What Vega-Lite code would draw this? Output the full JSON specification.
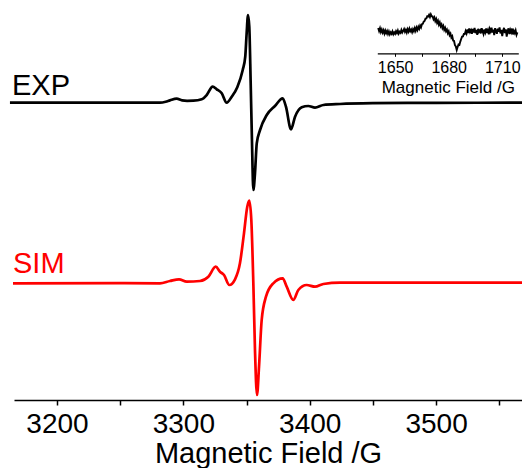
{
  "$schema": "https://vega.github.io/schema/vega-lite/v6.json",
  "width": 508,
  "height": 400,
  "autosize": {"type": "none"},
  "padding": {"left": 14, "top": 0, "right": 0, "bottom": 68},
  "config": {
    "view": {"stroke": null},
    "font": "Liberation Sans",
    "axis": {"domainColor": "#000000", "tickColor": "#000000", "labelColor": "#000000", "titleColor": "#000000", "titleFontWeight": "normal", "grid": false, "labelFont": "Liberation Sans", "titleFont": "Liberation Sans"}
  },
  "datasets": {
    "main": [
      {"trace":"EXP","field":3162.8,"signal":297.3},{"trace":"EXP","field":3200,"signal":297.3},{"trace":"EXP","field":3250,"signal":297.4},{"trace":"EXP","field":3281.5,"signal":297.3},{"trace":"EXP","field":3286,"signal":298.2},{"trace":"EXP","field":3289.4,"signal":299.6},{"trace":"EXP","field":3294.7,"signal":301.3},{"trace":"EXP","field":3299,"signal":299.6},{"trace":"EXP","field":3303,"signal":299.2},{"trace":"EXP","field":3308,"signal":299.3},{"trace":"EXP","field":3314.5,"signal":300.7},{"trace":"EXP","field":3318.5,"signal":305},{"trace":"EXP","field":3323.2,"signal":313.3},{"trace":"EXP","field":3326.4,"signal":310.7},{"trace":"EXP","field":3330.4,"signal":306.7},{"trace":"EXP","field":3334.3,"signal":297.3},{"trace":"EXP","field":3338.3,"signal":303.3},{"trace":"EXP","field":3342.7,"signal":312.7},{"trace":"EXP","field":3347,"signal":330},{"trace":"EXP","field":3349,"signal":343.3},{"trace":"EXP","field":3350.1,"signal":366.7},{"trace":"EXP","field":3351.2,"signal":385},{"trace":"EXP","field":3352.2,"signal":373.3},{"trace":"EXP","field":3353.3,"signal":316.7},{"trace":"EXP","field":3354.3,"signal":260},{"trace":"EXP","field":3355.4,"signal":210},{"trace":"EXP","field":3356.7,"signal":226.7},{"trace":"EXP","field":3358.1,"signal":256.7},{"trace":"EXP","field":3360.7,"signal":270},{"trace":"EXP","field":3366,"signal":285},{"trace":"EXP","field":3372.5,"signal":294},{"trace":"EXP","field":3378.6,"signal":301.7},{"trace":"EXP","field":3381.2,"signal":293.3},{"trace":"EXP","field":3385.2,"signal":270.7},{"trace":"EXP","field":3388.4,"signal":283.3},{"trace":"EXP","field":3393.7,"signal":292.7},{"trace":"EXP","field":3398.9,"signal":294},{"trace":"EXP","field":3404.2,"signal":292.3},{"trace":"EXP","field":3410.8,"signal":295},{"trace":"EXP","field":3424,"signal":296},{"trace":"EXP","field":3450,"signal":296.8},{"trace":"EXP","field":3500,"signal":297.2},{"trace":"EXP","field":3568,"signal":297.3},
      {"trace":"SIM","field":3165.2,"signal":116.7},{"trace":"SIM","field":3250,"signal":116.8},{"trace":"SIM","field":3281.5,"signal":116.7},{"trace":"SIM","field":3289.4,"signal":119},{"trace":"SIM","field":3296.6,"signal":120.7},{"trace":"SIM","field":3302.7,"signal":118.3},{"trace":"SIM","field":3313.2,"signal":119},{"trace":"SIM","field":3319.8,"signal":123.3},{"trace":"SIM","field":3325.6,"signal":133.3},{"trace":"SIM","field":3329,"signal":128.3},{"trace":"SIM","field":3332.2,"signal":125},{"trace":"SIM","field":3336.4,"signal":115},{"trace":"SIM","field":3340.9,"signal":120.7},{"trace":"SIM","field":3344.8,"signal":136.7},{"trace":"SIM","field":3348,"signal":166.7},{"trace":"SIM","field":3350.6,"signal":193.3},{"trace":"SIM","field":3352.2,"signal":199.3},{"trace":"SIM","field":3353.8,"signal":180},{"trace":"SIM","field":3355.4,"signal":116.7},{"trace":"SIM","field":3356.7,"signal":50},{"trace":"SIM","field":3358.3,"signal":5},{"trace":"SIM","field":3359.9,"signal":33.3},{"trace":"SIM","field":3362,"signal":80},{"trace":"SIM","field":3365.4,"signal":103.3},{"trace":"SIM","field":3371.2,"signal":116.7},{"trace":"SIM","field":3378.6,"signal":121.7},{"trace":"SIM","field":3381.8,"signal":113.3},{"trace":"SIM","field":3387,"signal":100},{"trace":"SIM","field":3391,"signal":110},{"trace":"SIM","field":3397.6,"signal":115},{"trace":"SIM","field":3404.2,"signal":113.3},{"trace":"SIM","field":3410.8,"signal":116},{"trace":"SIM","field":3424,"signal":117.3},{"trace":"SIM","field":3500,"signal":117.3},{"trace":"SIM","field":3568,"signal":117.3}
    ],
    "labels": [
      {"trace":"EXP","field":3164.4,"signal":305},
      {"trace":"SIM","field":3165.2,"signal":126.7}
    ],
    "inset": [
      {"field":1640.5,"signal":4.0},{"field":1641,"signal":1.0},{"field":1641.5,"signal":3.8},{"field":1642,"signal":0.0},{"field":1642.5,"signal":2.5},{"field":1643,"signal":-0.5},{"field":1643.5,"signal":1.8},{"field":1644,"signal":-1.5},{"field":1644.5,"signal":1.4},{"field":1645,"signal":-1.2},{"field":1645.5,"signal":0.9},{"field":1646,"signal":-2.0},{"field":1646.5,"signal":0.5},{"field":1647,"signal":-2.3},{"field":1647.5,"signal":-0.3},{"field":1648,"signal":-1.8},{"field":1648.5,"signal":0.6},{"field":1649,"signal":-2.2},{"field":1649.5,"signal":-0.4},{"field":1650,"signal":-1.8},{"field":1650.5,"signal":0.8},{"field":1651,"signal":-1.0},{"field":1651.5,"signal":1.5},{"field":1652,"signal":-1.6},{"field":1652.5,"signal":0.3},{"field":1653,"signal":-0.8},{"field":1653.5,"signal":2.0},{"field":1654,"signal":-0.4},{"field":1654.5,"signal":1.2},{"field":1655,"signal":3.0},{"field":1655.5,"signal":0.2},{"field":1656,"signal":2.2},{"field":1656.5,"signal":-0.5},{"field":1657,"signal":2.7},{"field":1657.5,"signal":0.4},{"field":1658,"signal":3.4},{"field":1658.5,"signal":0.8},{"field":1659,"signal":2.4},{"field":1659.5,"signal":-0.2},{"field":1660,"signal":2.8},{"field":1660.5,"signal":0.8},{"field":1661,"signal":3.8},{"field":1661.5,"signal":1.2},{"field":1662,"signal":4.4},{"field":1662.5,"signal":2.0},{"field":1663,"signal":5.2},{"field":1663.5,"signal":3.2},{"field":1664,"signal":6.4},{"field":1664.5,"signal":4.6},{"field":1665,"signal":7.8},{"field":1665.5,"signal":8.2},{"field":1666,"signal":10.4},{"field":1666.5,"signal":11.0},{"field":1667,"signal":13.4},{"field":1667.5,"signal":13.6},{"field":1668,"signal":15.8},{"field":1668.5,"signal":15.4},{"field":1669,"signal":17.2},{"field":1669.5,"signal":15.0},{"field":1670,"signal":17.6},{"field":1670.5,"signal":15.6},{"field":1671,"signal":15.6},{"field":1671.5,"signal":12.8},{"field":1672,"signal":14.6},{"field":1672.5,"signal":11.0},{"field":1673,"signal":13.0},{"field":1673.5,"signal":9.2},{"field":1674,"signal":11.2},{"field":1674.5,"signal":7.4},{"field":1675,"signal":9.6},{"field":1675.5,"signal":5.8},{"field":1676,"signal":7.6},{"field":1676.5,"signal":4.0},{"field":1677,"signal":6.0},{"field":1677.5,"signal":2.2},{"field":1678,"signal":4.2},{"field":1678.5,"signal":0.8},{"field":1679,"signal":2.4},{"field":1679.5,"signal":-1.2},{"field":1680,"signal":0.6},{"field":1680.5,"signal":-3.2},{"field":1681,"signal":-1.6},{"field":1681.5,"signal":-5.6},{"field":1682,"signal":-4.2},{"field":1682.5,"signal":-8.6},{"field":1683,"signal":-9.0},{"field":1683.5,"signal":-13.2},{"field":1684,"signal":-14.4},{"field":1684.5,"signal":-18.0},{"field":1685,"signal":-15.0},{"field":1685.5,"signal":-12.6},{"field":1686,"signal":-13.0},{"field":1686.5,"signal":-9.6},{"field":1687,"signal":-7.0},{"field":1687.5,"signal":-4.6},{"field":1688,"signal":-4.4},{"field":1688.5,"signal":-2.0},{"field":1689,"signal":-2.0},{"field":1689.5,"signal":1.0},{"field":1690,"signal":-1.4},{"field":1690.5,"signal":2.6},{"field":1691,"signal":-1.0},{"field":1691.5,"signal":3.6},{"field":1692,"signal":0.0},{"field":1692.5,"signal":1.8},{"field":1693,"signal":-1.8},{"field":1693.5,"signal":3.0},{"field":1694,"signal":-0.4},{"field":1694.5,"signal":4.0},{"field":1695,"signal":-1.2},{"field":1695.5,"signal":2.2},{"field":1696,"signal":-2.8},{"field":1696.5,"signal":3.2},{"field":1697,"signal":0.2},{"field":1697.5,"signal":1.5},{"field":1698,"signal":-1.4},{"field":1698.5,"signal":3.8},{"field":1699,"signal":0.6},{"field":1699.5,"signal":-2.0},{"field":1700,"signal":2.6},{"field":1700.5,"signal":-0.3},{"field":1701,"signal":3.5},{"field":1701.5,"signal":-1.0},{"field":1702,"signal":1.8},{"field":1702.5,"signal":-2.4},{"field":1703,"signal":3.0},{"field":1703.5,"signal":0.6},{"field":1704,"signal":4.4},{"field":1704.5,"signal":-0.6},{"field":1705,"signal":2.4},{"field":1705.5,"signal":-3.2},{"field":1706,"signal":3.8},{"field":1706.5,"signal":1.0},{"field":1707,"signal":-1.8},{"field":1707.5,"signal":3.4},{"field":1708,"signal":0.2},{"field":1708.5,"signal":4.6},{"field":1709,"signal":-1.4},{"field":1709.5,"signal":2.0},{"field":1710,"signal":-4.0},{"field":1710.5,"signal":1.4},{"field":1711,"signal":4.2},{"field":1711.5,"signal":-1.0},{"field":1712,"signal":2.6},{"field":1712.5,"signal":-4.6},{"field":1713,"signal":0.8},{"field":1713.5,"signal":3.6},{"field":1714,"signal":-2.0},{"field":1714.5,"signal":2.2},{"field":1715,"signal":-0.2},{"field":1715.5,"signal":3.4},{"field":1716,"signal":-2.4},{"field":1716.5,"signal":1.2},{"field":1717,"signal":-1.0},{"field":1717.5,"signal":1.6},{"field":1718,"signal":-2.8},{"field":1718.5,"signal":-0.4}
    ]
  },
  "layer": [
    {
      "layer": [
        {
          "data": {"name": "main"},
          "mark": {"type": "line", "interpolate": "monotone", "strokeWidth": 2.7, "clip": false},
          "encoding": {
            "x": {"field": "field", "type": "quantitative",
                  "scale": {"domain": [3166, 3568], "nice": false, "zero": false},
                  "axis": {"orient": "bottom", "values": [3200, 3250, 3300, 3350, 3400, 3450, 3500, 3550],
                           "labelExpr": "datum.value % 100 === 0 ? datum.label : ''",
                           "format": "d",
                           "tickSize": 5,
                           "tickWidth": 1.5, "domainWidth": 1.5,
                           "labelFontSize": 28, "labelPadding": 5, "labelFlush": false, "labelOverlap": false,
                           "title": "Magnetic Field /G", "titleFontSize": 29, "titlePadding": 1}},
            "y": {"field": "signal", "type": "quantitative", "scale": {"domain": [0, 400], "nice": false, "zero": false}, "axis": null},
            "color": {"field": "trace", "type": "nominal", "scale": {"domain": ["EXP", "SIM"], "range": ["#000000", "#ff0000"]}, "legend": null}
          }
        },
        {
          "data": {"name": "labels"},
          "mark": {"type": "text", "align": "left", "baseline": "alphabetic", "fontSize": 29},
          "encoding": {
            "x": {"field": "field", "type": "quantitative"},
            "y": {"field": "signal", "type": "quantitative"},
            "text": {"field": "trace", "type": "nominal"},
            "color": {"field": "trace", "type": "nominal", "legend": null}
          }
        }
      ]
    },
    {
      "data": {"name": "inset"},
      "mark": {"type": "line", "strokeWidth": 1.9, "color": "#000000", "clip": false},
      "encoding": {
        "x": {"field": "field", "type": "quantitative",
              "scale": {"domain": [1640, 1719], "range": [363.3, 504.3], "nice": false, "zero": false},
              "axis": {"orient": "bottom", "offset": -346.7, "values": [1650, 1665, 1680, 1695, 1710],
                       "labelExpr": "datum.value % 30 === 0 ? datum.label : ''",
                       "format": "d", "tickSize": 3, "tickWidth": 1, "domainWidth": 1.2,
                       "labelFontSize": 16, "labelPadding": 3, "labelFlush": false, "labelOverlap": false,
                       "title": "Magnetic Field /G", "titleFontSize": 17, "titlePadding": 4}},
        "y": {"field": "signal", "type": "quantitative", "scale": {"domain": [-20, 20], "range": [52, 12], "nice": false, "zero": false}, "axis": null}
      }
    }
  ],
  "resolve": {"scale": {"x": "independent", "y": "independent", "color": "shared"}, "axis": {"x": "independent"}}
}
